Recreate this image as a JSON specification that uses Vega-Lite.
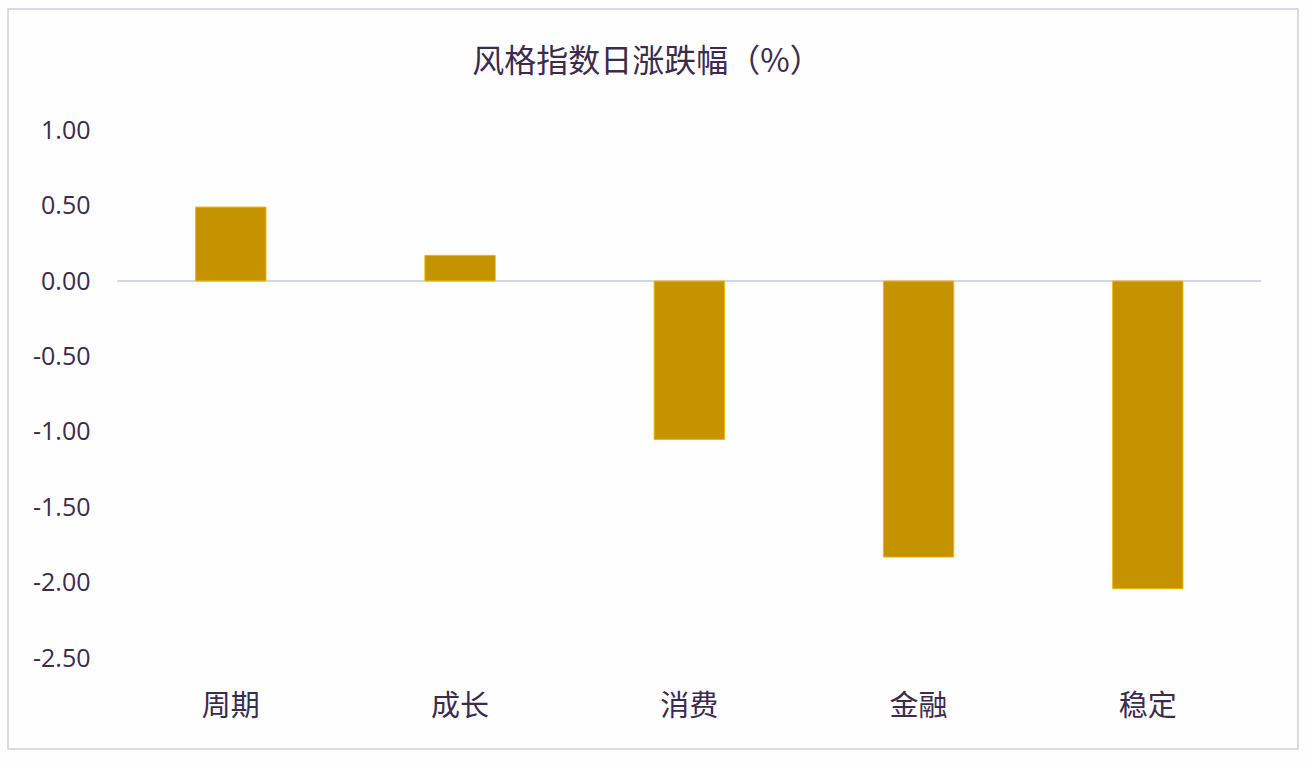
{
  "$schema": "https://vega.github.io/schema/vega-lite/v6.json",
  "width": 1290,
  "height": 740,
  "autosize": {"type": "none"},
  "padding": {"left": 8, "top": 9, "right": 14, "bottom": 15},
  "background": "#fefeff",
  "title": {
    "text": "风格指数日涨跌幅（%）",
    "font": "Noto Sans CJK SC",
    "fontSize": 32,
    "fontWeight": "normal",
    "color": "#3b2b4d",
    "anchor": "middle",
    "frame": "group",
    "baseline": "top",
    "offset": -70,
    "dx": -6
  },
  "config": {
    "view": {"stroke": "#cdd0d8", "strokeWidth": 1.5, "fill": null}
  },
  "datasets": {
    "bars": [
      {"style": "周期", "value": 0.49},
      {"style": "成长", "value": 0.17},
      {"style": "消费", "value": -1.05},
      {"style": "金融", "value": -1.83},
      {"style": "稳定", "value": -2.04}
    ],
    "zero": [
      {"from": "周期", "to": "稳定", "value": 0}
    ]
  },
  "layer": [
    {
      "data": {"name": "zero"},
      "mark": {"type": "rule", "color": "#c6cad6", "strokeWidth": 1.5},
      "encoding": {
        "x": {"field": "from", "type": "nominal", "bandPosition": -1.112},
        "x2": {"field": "to", "bandPosition": 2.11},
        "y": {"field": "value", "type": "quantitative"}
      }
    },
    {
      "data": {"name": "bars"},
      "mark": {"type": "bar", "fill": "#c69300", "stroke": "#ebbb10", "strokeWidth": 1},
      "encoding": {
        "x": {
          "field": "style",
          "type": "nominal",
          "scale": {
            "domain": ["周期", "成长", "消费", "金融", "稳定"],
            "paddingInner": 0.693,
            "paddingOuter": 0.66,
            "align": 0.62
          },
          "axis": {
            "title": null,
            "orient": "bottom",
            "domain": false,
            "ticks": false,
            "labelAngle": 0,
            "labelAlign": "center",
            "bandPosition": 0.5,
            "labelFont": "Noto Sans CJK SC",
            "labelFontSize": 29,
            "labelColor": "#3b2b4d",
            "labelBaseline": "top",
            "labelPadding": 0,
            "offset": -57
          }
        },
        "y": {
          "field": "value",
          "type": "quantitative",
          "scale": {"domain": [-3.102, 1.803], "nice": false, "zero": false},
          "axis": {
            "title": null,
            "values": [-2.5, -2, -1.5, -1, -0.5, 0, 0.5, 1],
            "labelExpr": "replace(format(datum.value, '.2f'), '\u2212', '-')",
            "domain": false,
            "ticks": false,
            "grid": false,
            "labelFont": "Open Sans",
            "labelFontSize": 25,
            "labelColor": "#3b2b4d",
            "labelAlign": "right",
            "labelBaseline": "middle",
            "labelPadding": 0,
            "labelOverlap": false,
            "labelFlush": false,
            "offset": -82
          }
        }
      }
    }
  ]
}
